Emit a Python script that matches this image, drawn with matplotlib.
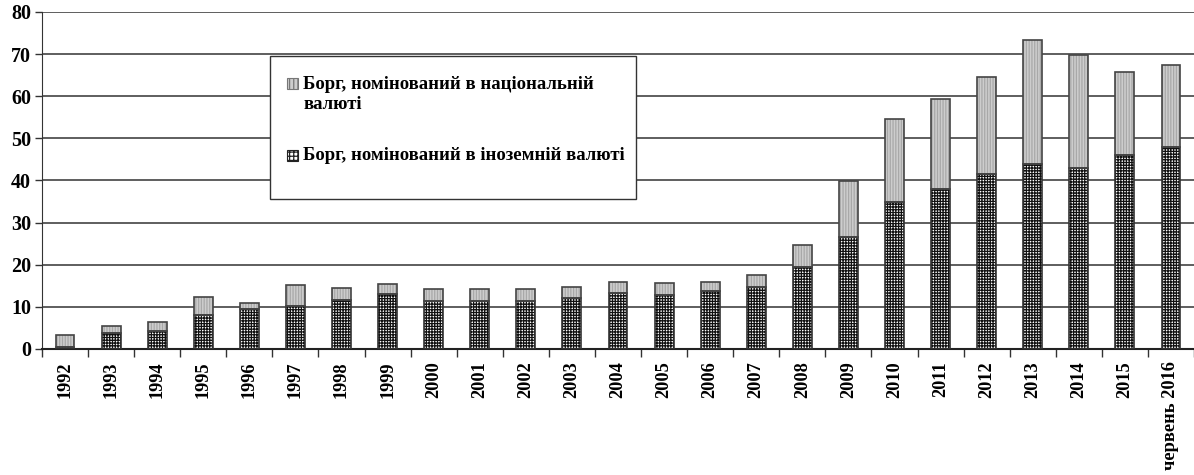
import matplotlib
matplotlib.use('Agg')
import matplotlib.pyplot as plt
from matplotlib.patches import Rectangle
import numpy as np

# Data (bn, stacked)
years = ['1992', '1993', '1994', '1995', '1996', '1997', '1998', '1999', '2000',
         '2001', '2002', '2003', '2004', '2005', '2006', '2007', '2008', '2009',
         '2010', '2011', '2012', '2013', '2014', '2015', 'червень 2016']
foreign = [0.4, 3.8, 4.3, 8.0, 9.4, 10.1, 11.6, 13.0, 11.5, 11.4, 11.3, 12.1,
           13.3, 12.8, 13.7, 14.8, 19.5, 26.7, 34.8, 38.0, 41.5, 43.8, 43.0,
           46.1, 47.9]
total = [3.3, 5.5, 6.4, 12.3, 11.0, 15.2, 14.4, 15.4, 14.2, 14.2, 14.2, 14.6,
         16.0, 15.6, 16.0, 17.6, 24.7, 39.8, 54.5, 59.3, 64.6, 73.3, 69.9,
         65.8, 67.3]
national = [t - f for t, f in zip(total, foreign)]

label_nat = 'Борг, номінований в національній\nвалюті'
label_for = 'Борг, номінований в іноземній валюті'

plt.rcParams['font.family'] = ['Liberation Serif', 'DejaVu Serif']
plt.rcParams['font.weight'] = 'bold'
plt.rcParams['hatch.linewidth'] = 0.9

W, H = 1194, 475
fig = plt.figure(figsize=(W / 100, H / 100), dpi=100)
ax = fig.add_axes([42 / W, 126 / H, 1152 / W, 337 / H])

x = np.arange(len(years))
w = 0.41

# grid lines
for v in range(10, 90, 10):
    ax.axhline(v, color='#333333', lw=1.1, zorder=0)

# foreign currency part (dense cross hatch)
ax.bar(x, foreign, w, color='white', edgecolor='#111111', hatch='++++++',
       lw=0, zorder=2)
ax.bar(x, foreign, w, color='none', edgecolor='#333333', lw=1.2, zorder=3)
# national currency part (light gray, fine vertical stripes)
ax.bar(x, national, w, bottom=foreign, color='#cdcdcd', edgecolor='#a8a8a8',
       hatch='||||||', lw=0, zorder=2)
ax.bar(x, national, w, bottom=foreign, color='none', edgecolor='#444444',
       lw=1.2, zorder=3)

ax.set_xlim(-0.5, len(years) - 0.5)
ax.set_ylim(0, 80)
ax.set_yticks(range(0, 90, 10))
ax.tick_params(axis='y', labelsize=14.5, length=5, width=1, color='#333333', pad=3)

ax.set_xticks(x)
ax.set_xticklabels(years, rotation=90, fontsize=13.2)
ax.tick_params(axis='x', which='major', length=0, pad=9)
ax.set_xticks(np.arange(len(years) + 1) - 0.5, minor=True)
ax.tick_params(axis='x', which='minor', length=6, width=1, color='#333333',
               direction='out')

for s in ['top', 'right']:
    ax.spines[s].set_visible(False)
ax.spines['left'].set_color('#333333')
ax.spines['bottom'].set_color('#222222')
ax.spines['bottom'].set_linewidth(1.5)

# legend drawn by hand (square aligned with first text line)
def fx(px):
    return px / W

def fy(py):
    return 1 - py / H

fig.patches.append(Rectangle((fx(270), fy(199)), 366 / W, 143 / H,
                             transform=fig.transFigure, facecolor='white',
                             edgecolor='#333333', lw=1.0, zorder=5))
fig.patches.append(Rectangle((fx(287), fy(89)), 11 / W, 11 / H,
                             transform=fig.transFigure, facecolor='#cdcdcd',
                             edgecolor='#777777', hatch='||||', lw=0.8, zorder=6))
fig.patches.append(Rectangle((fx(287), fy(161)), 11 / W, 11 / H,
                             transform=fig.transFigure, facecolor='white',
                             edgecolor='#222222', hatch='++++', lw=0.8, zorder=6))
fig.text(fx(303), fy(76), label_nat, fontsize=13.5, va='top', ha='left',
         linespacing=1.25, zorder=7)
fig.text(fx(303), fy(156), label_for, fontsize=13.5, va='center', ha='left',
         zorder=7)

fig.savefig('out.png', dpi=100)
